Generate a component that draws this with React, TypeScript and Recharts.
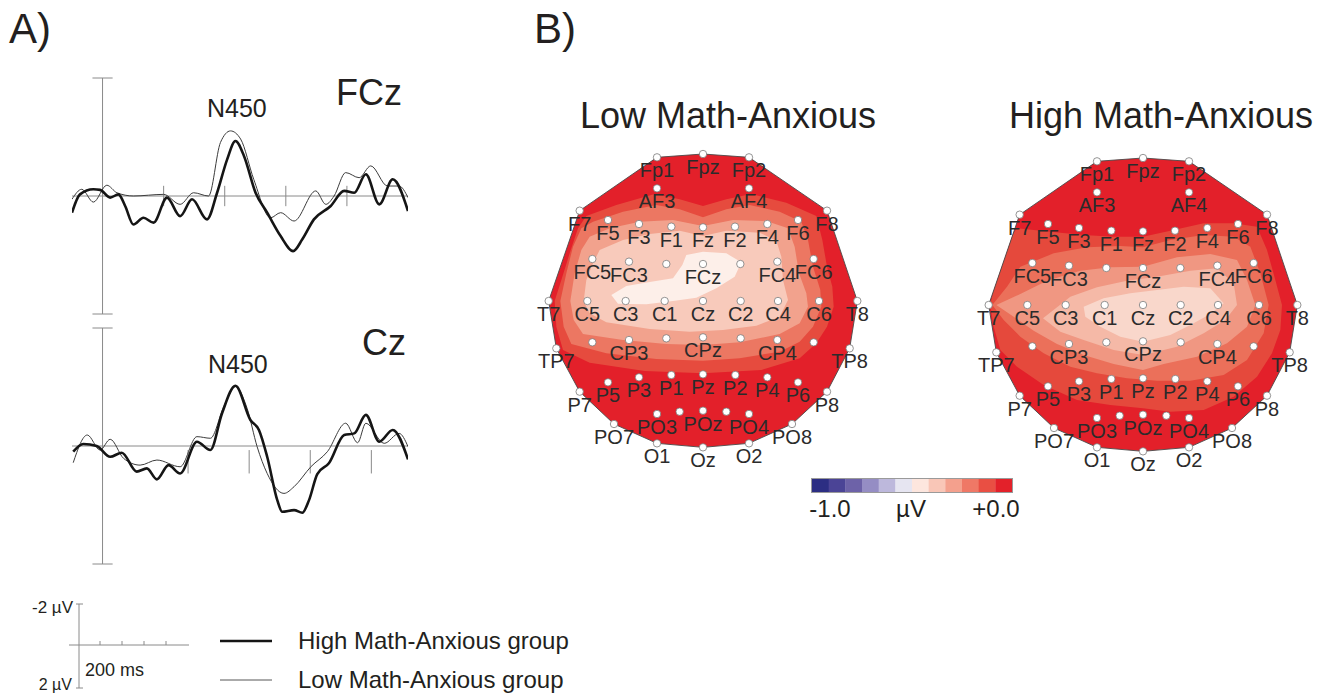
import React from "react";
import {
  LineChart,
  Line,
  XAxis,
  YAxis,
  ReferenceLine,
  ScatterChart,
  Scatter,
  BarChart,
  Bar,
  Cell,
} from "recharts";

const FONT = '"Liberation Sans", Arial, Helvetica, sans-serif';
const AXIS = "#8a8a8a";
const TEXT = "#231f20";

// ---- ERP waveforms: t in ms, v in µV (negative plotted up) ----
const fczHigh = [
  { t: -100, v: 0.82 }, { t: -74, v: -0.08 }, { t: -30, v: -0.33 }, { t: -8, v: -0.3 },
  { t: 25, v: 0.08 }, { t: 52, v: -0.08 }, { t: 74, v: 0.49 }, { t: 101, v: 1.4 },
  { t: 134, v: 1.07 }, { t: 167, v: 1.31 }, { t: 211, v: 0.08 }, { t: 254, v: 0.99 },
  { t: 293, v: 0.16 }, { t: 342, v: 1.15 }, { t: 375, v: -0.16 }, { t: 408, v: -1.8 },
  { t: 435, v: -2.7 }, { t: 463, v: -1.97 }, { t: 501, v: -0.16 }, { t: 539, v: 0.82 },
  { t: 583, v: 1.97 }, { t: 624, v: 2.71 }, { t: 654, v: 2.13 }, { t: 692, v: 1.15 },
  { t: 747, v: 0.49 }, { t: 791, v: -0.25 }, { t: 824, v: -0.16 }, { t: 862, v: -1.07 },
  { t: 906, v: 0.41 }, { t: 950, v: -0.82 }, { t: 1000, v: 0.74 },
];

const fczLow = [
  { t: -100, v: 0.16 }, { t: -68, v: -0.33 }, { t: -30, v: 0.3 }, { t: 14, v: -0.53 },
  { t: 47, v: -0.16 }, { t: 101, v: 0 }, { t: 200, v: -0.08 }, { t: 254, v: 0.41 },
  { t: 298, v: -0.16 }, { t: 347, v: 0 }, { t: 386, v: -2.63 }, { t: 419, v: -3.2 },
  { t: 452, v: -2.8 }, { t: 495, v: -0.82 }, { t: 550, v: 1.07 }, { t: 583, v: 0.82 },
  { t: 627, v: 1.23 }, { t: 698, v: -0.25 }, { t: 731, v: 0.41 }, { t: 758, v: 0 },
  { t: 796, v: -1.15 }, { t: 840, v: -0.9 }, { t: 878, v: -1.48 }, { t: 933, v: -0.49 },
  { t: 971, v: -0.49 }, { t: 1000, v: 0.08 },
];

const czHigh = [
  { t: -96, v: 0.28 }, { t: -63, v: -0.1 }, { t: -19, v: 0 }, { t: 25, v: 0.53 },
  { t: 63, v: 0.33 }, { t: 112, v: 1.26 }, { t: 145, v: 1.1 }, { t: 178, v: 1.64 },
  { t: 216, v: 0.94 }, { t: 254, v: 1.35 }, { t: 309, v: -0.21 }, { t: 353, v: 0.2 },
  { t: 391, v: -1.6 }, { t: 435, v: -2.96 }, { t: 484, v: -1.28 }, { t: 512, v: -0.79 },
  { t: 539, v: 0.53 }, { t: 572, v: 2.66 }, { t: 588, v: 3.23 }, { t: 627, v: 3.15 },
  { t: 654, v: 3.28 }, { t: 676, v: 2.66 }, { t: 703, v: 1.38 }, { t: 741, v: 0.85 },
  { t: 791, v: -0.54 }, { t: 824, v: -0.62 }, { t: 862, v: -1.53 }, { t: 906, v: -0.21 },
  { t: 950, v: -0.79 }, { t: 1000, v: 0.66 },
];

const czLow = [
  { t: -96, v: 0.82 }, { t: -50, v: -0.54 }, { t: -8, v: 0.2 }, { t: 25, v: -0.33 },
  { t: 69, v: 0.61 }, { t: 123, v: 0.94 }, { t: 178, v: 0.69 }, { t: 254, v: 1.02 },
  { t: 309, v: -0.46 }, { t: 353, v: -0.38 }, { t: 397, v: -1.94 }, { t: 435, v: -2.92 },
  { t: 473, v: -1.86 }, { t: 506, v: 0.03 }, { t: 539, v: 1.35 }, { t: 594, v: 2.33 },
  { t: 627, v: 2.0 }, { t: 682, v: 1.02 }, { t: 736, v: 0.28 }, { t: 796, v: -1.12 },
  { t: 835, v: -0.16 }, { t: 862, v: -1.12 }, { t: 922, v: -0.13 }, { t: 971, v: -0.62 },
  { t: 1000, v: 0.03 },
];

const fczTicks = [200, 400, 600, 800];
const czTicks = [280, 480, 680, 880];

// ---- electrode layout (head units, T8 = 463) ----
const electrodes = [
  { name: "Fp1", x: -138, y: 431 }, { name: "Fpz", x: 0, y: 441 }, { name: "Fp2", x: 138, y: 431 },
  { name: "AF3", x: -138, y: 338 }, { name: "AF4", x: 138, y: 338 },
  { name: "F7", x: -370, y: 271 }, { name: "F5", x: -285, y: 243 }, { name: "F3", x: -192, y: 231 },
  { name: "F1", x: -95, y: 223 }, { name: "Fz", x: 0, y: 221 }, { name: "F2", x: 96, y: 223 },
  { name: "F4", x: 193, y: 231 }, { name: "F6", x: 285, y: 243 }, { name: "F8", x: 372, y: 271 },
  { name: "FC5", x: -332, y: 126 }, { name: "FC3", x: -222, y: 118 }, { name: "FC1", x: -110, y: 111, hideLabel: true },
  { name: "FCz", x: 0, y: 111 }, { name: "FC2", x: 112, y: 111, hideLabel: true }, { name: "FC4", x: 223, y: 118 },
  { name: "FC6", x: 332, y: 126 },
  { name: "T7", x: -463, y: 0 }, { name: "C5", x: -347, y: 0 }, { name: "C3", x: -232, y: 0 },
  { name: "C1", x: -115, y: 0 }, { name: "Cz", x: 0, y: 0 }, { name: "C2", x: 113, y: 0 },
  { name: "C4", x: 225, y: 0 }, { name: "C6", x: 348, y: 0 }, { name: "T8", x: 463, y: 0 },
  { name: "TP7", x: -440, y: -142 }, { name: "CP5", x: -332, y: -124, hideLabel: true },
  { name: "CP3", x: -222, y: -117 }, { name: "CP1", x: -110, y: -112, hideLabel: true },
  { name: "CPz", x: 0, y: -109 }, { name: "CP2", x: 113, y: -112, hideLabel: true },
  { name: "CP4", x: 223, y: -117 }, { name: "CP6", x: 332, y: -124, hideLabel: true },
  { name: "TP8", x: 440, y: -142 },
  { name: "P7", x: -370, y: -272 }, { name: "P5", x: -285, y: -244 }, { name: "P3", x: -192, y: -229 },
  { name: "P1", x: -95, y: -222 }, { name: "Pz", x: 0, y: -220 }, { name: "P2", x: 97, y: -222 },
  { name: "P4", x: 193, y: -229 }, { name: "P6", x: 285, y: -244 }, { name: "P8", x: 372, y: -272 },
  { name: "PO7", x: -267, y: -369 }, { name: "PO3", x: -138, y: -339 }, { name: "PO1", x: -70, y: -332, hideLabel: true },
  { name: "POz", x: 0, y: -329 }, { name: "PO2", x: 70, y: -332, hideLabel: true }, { name: "PO4", x: 138, y: -339 },
  { name: "PO8", x: 267, y: -369 },
  { name: "O1", x: -138, y: -427 }, { name: "Oz", x: 0, y: -439 }, { name: "O2", x: 138, y: -427 },
];

const hullOrder = [
  "Fpz", "Fp2", "F8", "T8", "TP8", "P8", "PO8", "O2", "Oz", "O1", "PO7", "P7", "TP7", "T7", "F7", "Fp1",
];

// ---- contour boundaries, low math-anxious (outer -> inner) ----
const lowB1 = [
  { x: -445, y: 0 }, { x: -425, y: 63 }, { x: -400, y: 143 }, { x: -375, y: 218 }, { x: -350, y: 255 },
  { x: -260, y: 288 }, { x: -145, y: 321 }, { x: -70, y: 305 }, { x: 0, y: 285 }, { x: 70, y: 305 },
  { x: 145, y: 321 }, { x: 250, y: 295 }, { x: 340, y: 255 }, { x: 358, y: 183 }, { x: 372, y: 103 },
  { x: 388, y: 43 }, { x: 392, y: -17 }, { x: 372, y: -77 }, { x: 340, y: -127 }, { x: 290, y: -172 },
  { x: 175, y: -207 }, { x: 0, y: -217 }, { x: -175, y: -210 }, { x: -340, y: -185 }, { x: -420, y: -147 },
  { x: -440, y: -77 },
];
const lowB2 = [
  { x: -428, y: 0 }, { x: -410, y: 83 }, { x: -390, y: 163 }, { x: -365, y: 218 }, { x: -330, y: 238 },
  { x: -240, y: 268 }, { x: -140, y: 288 }, { x: -70, y: 275 }, { x: 0, y: 251 }, { x: 70, y: 275 },
  { x: 140, y: 288 }, { x: 230, y: 268 }, { x: 295, y: 238 }, { x: 315, y: 183 }, { x: 330, y: 103 },
  { x: 352, y: 33 }, { x: 355, y: -17 }, { x: 330, y: -77 }, { x: 290, y: -122 }, { x: 230, y: -152 },
  { x: 110, y: -172 }, { x: 0, y: -179 }, { x: -140, y: -174 }, { x: -290, y: -157 }, { x: -395, y: -129 },
  { x: -418, y: -77 },
];
const lowB3 = [
  { x: -398, y: 0 }, { x: -385, y: 83 }, { x: -365, y: 153 }, { x: -340, y: 193 }, { x: -280, y: 218 },
  { x: -190, y: 238 }, { x: -90, y: 243 }, { x: 0, y: 225 }, { x: 90, y: 243 }, { x: 190, y: 240 },
  { x: 255, y: 218 }, { x: 275, y: 163 }, { x: 288, y: 83 }, { x: 310, y: 23 }, { x: 315, y: -17 },
  { x: 290, y: -67 }, { x: 230, y: -99 }, { x: 110, y: -124 }, { x: 0, y: -132 }, { x: -110, y: -129 },
  { x: -240, y: -117 }, { x: -360, y: -99 }, { x: -388, y: -57 },
];
const lowB4 = [
  { x: -358, y: 0 }, { x: -350, y: 63 }, { x: -330, y: 113 }, { x: -310, y: 153 }, { x: -240, y: 183 },
  { x: -160, y: 201 }, { x: -70, y: 211 }, { x: 0, y: 195 }, { x: 70, y: 211 }, { x: 170, y: 205 },
  { x: 220, y: 181 }, { x: 235, y: 133 }, { x: 240, y: 63 }, { x: 255, y: 3 }, { x: 230, y: -47 },
  { x: 160, y: -74 }, { x: 60, y: -87 }, { x: -40, y: -92 }, { x: -160, y: -84 }, { x: -290, y: -64 },
  { x: -340, y: -37 },
];
const lowB5 = [
  { x: -275, y: 18 }, { x: -230, y: 45 }, { x: -160, y: 57 }, { x: -90, y: 68 }, { x: -62, y: 108 },
  { x: -50, y: 138 }, { x: 0, y: 148 }, { x: 70, y: 143 }, { x: 115, y: 116 }, { x: 95, y: 73 },
  { x: 40, y: 38 }, { x: -20, y: 10 }, { x: -90, y: 0 }, { x: -170, y: -10 }, { x: -255, y: -8 },
];

// ---- contour boundaries, high math-anxious ----
const highB1 = [
  { x: -458, y: 0 }, { x: -438, y: 95 }, { x: -408, y: 185 }, { x: -378, y: 230 }, { x: -278, y: 220 },
  { x: -178, y: 210 }, { x: -88, y: 205 }, { x: 0, y: 205 }, { x: 82, y: 223 }, { x: 182, y: 245 },
  { x: 272, y: 245 }, { x: 342, y: 235 }, { x: 372, y: 165 }, { x: 397, y: 75 }, { x: 417, y: 0 },
  { x: 412, y: -75 }, { x: 387, y: -145 }, { x: 342, y: -215 }, { x: 272, y: -275 }, { x: 182, y: -315 },
  { x: 82, y: -320 }, { x: 0, y: -310 }, { x: -98, y: -300 }, { x: -198, y: -285 }, { x: -298, y: -240 },
  { x: -378, y: -185 }, { x: -428, y: -135 }, { x: -448, y: -65 },
];
const highB2 = [
  { x: -452, y: 0 }, { x: -408, y: 55 }, { x: -368, y: 115 }, { x: -268, y: 155 }, { x: -168, y: 173 },
  { x: -68, y: 177 }, { x: 0, y: 173 }, { x: 82, y: 195 }, { x: 182, y: 210 }, { x: 272, y: 205 },
  { x: 322, y: 175 }, { x: 352, y: 95 }, { x: 377, y: 0 }, { x: 362, y: -85 }, { x: 312, y: -165 },
  { x: 242, y: -210 }, { x: 142, y: -227 }, { x: 42, y: -227 }, { x: -48, y: -220 }, { x: -138, y: -205 },
  { x: -218, y: -185 }, { x: -298, y: -145 }, { x: -368, y: -95 }, { x: -418, y: -45 },
];
const highB3 = [
  { x: -440, y: 0 }, { x: -368, y: 33 }, { x: -288, y: 73 }, { x: -188, y: 103 }, { x: -98, y: 113 },
  { x: 0, y: 115 }, { x: 102, y: 143 }, { x: 202, y: 153 }, { x: 282, y: 135 }, { x: 312, y: 75 },
  { x: 337, y: 0 }, { x: 312, y: -65 }, { x: 252, y: -115 }, { x: 162, y: -155 }, { x: 62, y: -177 },
  { x: 0, y: -195 }, { x: -88, y: -177 }, { x: -178, y: -150 }, { x: -258, y: -117 }, { x: -328, y: -77 },
  { x: -388, y: -35 },
];
const highB4 = [
  { x: -300, y: -40 }, { x: -256, y: -5 }, { x: -218, y: 25 }, { x: -138, y: 53 }, { x: -48, y: 73 },
  { x: 42, y: 85 }, { x: 142, y: 103 }, { x: 222, y: 110 }, { x: 272, y: 65 }, { x: 282, y: 0 },
  { x: 247, y: -45 }, { x: 182, y: -85 }, { x: 102, y: -125 }, { x: 0, y: -150 }, { x: -88, y: -135 },
  { x: -178, y: -105 }, { x: -248, y: -80 },
];
const highB5 = [
  { x: -178, y: -5 }, { x: -118, y: 20 }, { x: -38, y: 35 }, { x: 42, y: 45 }, { x: 122, y: 55 },
  { x: 202, y: 50 }, { x: 242, y: 5 }, { x: 202, y: -27 }, { x: 142, y: -60 }, { x: 82, y: -90 },
  { x: 0, y: -110 }, { x: -68, y: -95 }, { x: -128, y: -65 }, { x: -173, y: -35 },
];

const colorbarSteps = [1, 2, 3, 4, 5, 6, 7, 8, 9, 10, 11, 12];

const COLORBAR_PALETTE = [
  "#2c2e83", "#4b4496", "#6d62a8", "#958dc4", "#bdb8dc", "#e6e5f1",
  "#fde6de", "#f9c6b7", "#f4a08d", "#ef7866", "#e94f43", "#e3212a",
];
const LOW_COLORS = ["#e3202a", "#e64b3e", "#ec7762", "#f2a28d", "#f8cabb", "#fdefe9"];
const HIGH_COLORS = ["#e3202a", "#e5493c", "#eb705a", "#f09782", "#f5b9a7", "#f9d7cb"];

const hullPoints = hullOrder.map((n) => electrodes.find((e) => e.name === n)!);

function pathFrom(points: { x: number; y: number }[]) {
  return points.map((p, i) => `${i ? "L" : "M"}${p.x},${p.y}`).join(" ") + " Z";
}

const noShape = () => <g />;

const hullClip = (clipId: string, fill: string) => (props: any) => {
  const d = pathFrom(props.points || []);
  return (
    <g>
      <defs>
        <clipPath id={clipId}>
          <path d={d} />
        </clipPath>
      </defs>
      <path d={d} fill={fill} stroke="none" />
    </g>
  );
};

const bandPath = (clipId: string, fill: string) => (props: any) => (
  <path d={pathFrom(props.points || [])} fill={fill} stroke="none" clipPath={`url(#${clipId})`} />
);

const outlinePath = (props: any) => (
  <path d={pathFrom(props.points || [])} fill="none" stroke="#4a4a4a" strokeWidth={0.9} />
);

const electrodeShape = (props: any) => {
  const { cx, cy, payload } = props;
  return (
    <g>
      <circle cx={cx} cy={cy} r={3.7} fill="#ffffff" stroke="#7a7a7a" strokeWidth={0.8} />
      {payload.hideLabel ? null : (
        <text
          x={cx}
          y={cy + 20}
          textAnchor="middle"
          fontSize={20}
          fontFamily={FONT}
          fill="#2b2b2b"
        >
          {payload.name}
        </text>
      )}
    </g>
  );
};

function TopoMap({
  left,
  top,
  bands,
  colors,
  clipId,
}: {
  left: number;
  top: number;
  bands: { x: number; y: number }[][];
  colors: string[];
  clipId: string;
}) {
  return (
    <div style={{ position: "absolute", left, top, width: 340, height: 340 }}>
      <ScatterChart width={340} height={340} margin={{ top: 0, right: 0, bottom: 0, left: 0 }}>
        <XAxis type="number" dataKey="x" domain={[-510, 510]} hide allowDataOverflow />
        <YAxis type="number" dataKey="y" domain={[-540, 480]} hide allowDataOverflow />
        <Scatter
          data={hullPoints}
          shape={noShape}
          line={hullClip(clipId, colors[0])}
          isAnimationActive={false}
        />
        {bands.map((band, i) => (
          <Scatter
            key={i}
            data={band}
            shape={noShape}
            line={bandPath(clipId, colors[i + 1])}
            isAnimationActive={false}
          />
        ))}
        <Scatter data={hullPoints} shape={noShape} line={outlinePath} isAnimationActive={false} />
        <Scatter data={electrodes} shape={electrodeShape} isAnimationActive={false} />
      </ScatterChart>
    </div>
  );
}

function ErpChart({
  top,
  high,
  low,
  ticks,
  tickFrom,
  tickTo,
}: {
  top: number;
  high: { t: number; v: number }[];
  low: { t: number; v: number }[];
  ticks: number[];
  tickFrom: number;
  tickTo: number;
}) {
  return (
    <div style={{ position: "absolute", left: 70, top, width: 340, height: 244 }}>
      <LineChart width={340} height={244} margin={{ top: 4, right: 2, bottom: 4, left: 2 }}>
        <XAxis type="number" dataKey="t" domain={[-100, 1000]} hide allowDataOverflow />
        <YAxis type="number" domain={[-5.8, 5.8]} reversed hide allowDataOverflow />
        <ReferenceLine y={0} stroke={AXIS} strokeWidth={1} />
        <ReferenceLine x={0} stroke={AXIS} strokeWidth={1} />
        <ReferenceLine
          segment={[{ x: -33, y: -5.8 }, { x: 33, y: -5.8 }]}
          stroke={AXIS}
          ifOverflow="visible"
        />
        <ReferenceLine
          segment={[{ x: -33, y: 5.8 }, { x: 33, y: 5.8 }]}
          stroke={AXIS}
          ifOverflow="visible"
        />
        {ticks.map((t) => (
          <ReferenceLine
            key={t}
            segment={[{ x: t, y: tickFrom }, { x: t, y: tickTo }]}
            stroke={AXIS}
            ifOverflow="visible"
          />
        ))}
        <Line
          data={low}
          dataKey="v"
          type="monotone"
          stroke="#3c3c3c"
          strokeWidth={1}
          dot={false}
          isAnimationActive={false}
        />
        <Line
          data={high}
          dataKey="v"
          type="monotone"
          stroke="#151515"
          strokeWidth={2.6}
          dot={false}
          isAnimationActive={false}
        />
      </LineChart>
    </div>
  );
}

function Txt({
  x,
  baseline,
  size,
  anchor = "start",
  children,
}: {
  x: number;
  baseline: number;
  size: number;
  anchor?: "start" | "middle" | "end";
  children: React.ReactNode;
}) {
  const shift = anchor === "middle" ? "translateX(-50%)" : anchor === "end" ? "translateX(-100%)" : "none";
  return (
    <div
      style={{
        position: "absolute",
        left: x,
        top: baseline - 0.847 * size,
        fontSize: size,
        lineHeight: `${size}px`,
        whiteSpace: "nowrap",
        color: TEXT,
        transform: shift,
      }}
    >
      {children}
    </div>
  );
}

export default function App() {
  const colorbarData = colorbarSteps.map((s) => ({ step: s, v: 1 }));
  return (
    <div
      style={{
        position: "absolute",
        left: 0,
        top: 0,
        width: 1328,
        height: 697,
        background: "#ffffff",
        fontFamily: FONT,
        overflow: "hidden",
      }}
    >
      <Txt x={9} baseline={44} size={42}>A)</Txt>
      <Txt x={534} baseline={44} size={42}>B)</Txt>

      <ErpChart top={74} high={fczHigh} low={fczLow} ticks={fczTicks} tickFrom={-0.5} tickTo={0.5} />
      <ErpChart top={324} high={czHigh} low={czLow} ticks={czTicks} tickFrom={0.2} tickTo={1.35} />

      <Txt x={207} baseline={117} size={25}>N450</Txt>
      <Txt x={336} baseline={105} size={36}>FCz</Txt>
      <Txt x={208} baseline={373} size={25}>N450</Txt>
      <Txt x={362} baseline={355} size={36}>Cz</Txt>

      {/* scale bar */}
      <svg style={{ position: "absolute", left: 0, top: 590 }} width={300} height={107}>
        <g stroke={AXIS} strokeWidth={1} fill="none">
          <line x1={79} y1={14} x2={79} y2={98} />
          <line x1={76} y1={14} x2={83} y2={14} />
          <line x1={76} y1={98} x2={83} y2={98} />
          <line x1={69} y1={55} x2={189} y2={55} />
          <line x1={100} y1={51} x2={100} y2={55} />
          <line x1={122} y1={51} x2={122} y2={55} />
          <line x1={144} y1={51} x2={144} y2={55} />
          <line x1={166} y1={51} x2={166} y2={55} />
        </g>
        <line x1={220} y1={51} x2={272} y2={51} stroke="#151515" strokeWidth={2.6} />
        <line x1={220} y1={90} x2={272} y2={90} stroke="#444444" strokeWidth={0.9} />
      </svg>
      <Txt x={73} baseline={613} size={17} anchor="end">-2 µV</Txt>
      <Txt x={72} baseline={691} size={16} anchor="end">2 µV</Txt>
      <Txt x={85} baseline={676} size={18}>200 ms</Txt>
      <Txt x={298} baseline={649} size={24}>High Math-Anxious group</Txt>
      <Txt x={298} baseline={688} size={24}>Low Math-Anxious group</Txt>

      {/* topographic maps */}
      <Txt x={728} baseline={128} size={36} anchor="middle">Low Math-Anxious</Txt>
      <Txt x={1161} baseline={128} size={36} anchor="middle">High Math-Anxious</Txt>

      <TopoMap
        left={533}
        top={141}
        bands={[lowB1, lowB2, lowB3, lowB4, lowB5]}
        colors={LOW_COLORS}
        clipId="hull-low"
      />
      <TopoMap
        left={973}
        top={145}
        bands={[highB1, highB2, highB3, highB4, highB5]}
        colors={HIGH_COLORS}
        clipId="hull-high"
      />

      {/* colour scale */}
      <div
        style={{
          position: "absolute",
          left: 812,
          top: 479,
          width: 200,
          height: 13,
          outline: "1px solid #9a9a9a",
        }}
      >
        <BarChart
          width={200}
          height={13}
          data={colorbarData}
          margin={{ top: 0, right: 0, bottom: 0, left: 0 }}
          barCategoryGap={0}
          barGap={0}
        >
          <XAxis dataKey="step" hide />
          <YAxis domain={[0, 1]} hide />
          <Bar dataKey="v" isAnimationActive={false}>
            {colorbarData.map((d, i) => (
              <Cell key={d.step} fill={COLORBAR_PALETTE[i]} />
            ))}
          </Bar>
        </BarChart>
      </div>
      <Txt x={830} baseline={517} size={24} anchor="middle">-1.0</Txt>
      <Txt x={911} baseline={517} size={24} anchor="middle">µV</Txt>
      <Txt x={996} baseline={517} size={24} anchor="middle">+0.0</Txt>
    </div>
  );
}
